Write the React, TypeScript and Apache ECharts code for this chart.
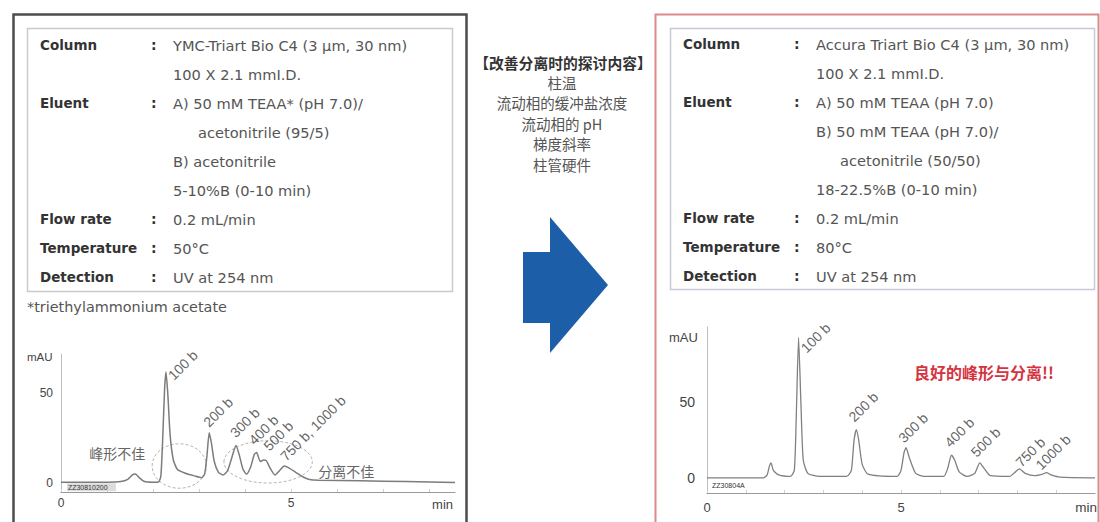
import React, { useEffect, useRef } from "react";
import * as echarts from "echarts";

// ---------- data ----------
const leftTrace: [number, number][] = [
  [0, 0.5], [1.0, 0.5], [1.3, 0.8], [1.45, 2], [1.55, 4.5], [1.62, 5], [1.7, 3], [1.8, 1],
  [2.0, 0.5], [2.12, 0.6], [2.17, 4], [2.21, 25], [2.25, 52], [2.28, 62], [2.32, 50],
  [2.37, 27], [2.44, 13], [2.53, 7.5], [2.7, 5.5], [2.9, 4], [3.05, 3], [3.12, 5],
  [3.17, 15], [3.22, 28], [3.27, 22], [3.33, 12], [3.42, 6], [3.52, 4.5], [3.62, 7],
  [3.72, 15], [3.8, 21], [3.87, 16], [3.95, 8], [4.03, 5], [4.12, 9], [4.2, 16],
  [4.25, 17], [4.33, 12], [4.4, 12.8], [4.46, 12.5], [4.55, 8], [4.65, 4.5], [4.75, 7],
  [4.85, 9.5], [4.95, 8.5], [5.1, 6], [5.25, 3.5], [5.4, 2], [5.6, 1.6], [6.5, 1.3],
  [7.5, 0.8], [8.56, 0.3],
];

const rightTrace: [number, number][] = [
  [0, 0], [1.45, 0], [1.55, 2], [1.61, 8], [1.65, 10], [1.71, 5], [1.85, 2], [2.15, 1],
  [2.25, 5], [2.3, 40], [2.36, 93], [2.42, 50], [2.48, 12], [2.6, 3], [2.9, 1], [3.6, 1],
  [3.72, 5], [3.79, 25], [3.85, 32], [3.91, 25], [4.0, 9], [4.15, 2.5], [4.9, 1],
  [5.0, 5], [5.08, 17], [5.13, 20], [5.22, 13], [5.38, 3], [5.6, 1], [6.1, 1], [6.2, 6],
  [6.3, 15], [6.38, 12], [6.5, 4], [6.7, 1], [6.9, 3], [7.03, 10], [7.15, 6], [7.3, 1.5],
  [7.8, 1], [7.95, 4], [8.05, 6], [8.2, 3], [8.45, 1.5], [8.65, 2.5], [8.75, 3.5],
  [8.87, 2], [9.1, 0.5], [10, 0],
];

const leftPeakNames = ["100 b", "200 b", "300 b", "400 b", "500 b", "750 b, 1000 b"];
const leftPeakTimes = [2.28, 3.22, 3.8, 4.25, 4.46, 4.87];
const leftPeakHeights = [62, 28, 21, 17, 13, 9.5];

const rightPeakNames = ["100 b", "200 b", "300 b", "400 b", "500 b", "750 b", "1000 b"];
const rightPeakTimes = [2.36, 3.85, 5.13, 6.3, 7.03, 8.05, 8.75];
const rightPeakHeights = [93, 32, 20, 15, 10, 6, 3.5];

const leftXTickLabels = [0, 5];
const leftYTickLabels = [0, 50];
const rightXTickLabels = [0, 5];
const rightYTickLabels = [0, 50];

const leftRows: [string, string, boolean][] = [
  ["Column", "YMC-Triart Bio C4 (3 µm, 30 nm)", false],
  ["", "100 X 2.1 mmI.D.", false],
  ["Eluent", "A) 50 mM TEAA* (pH 7.0)/", false],
  ["", "acetonitrile (95/5)", true],
  ["", "B) acetonitrile", false],
  ["", "5-10%B (0-10 min)", false],
  ["Flow rate", "0.2 mL/min", false],
  ["Temperature", "50°C", false],
  ["Detection", "UV at 254 nm", false],
];
const rightRows: [string, string, boolean][] = [
  ["Column", "Accura Triart Bio C4 (3 µm, 30 nm)", false],
  ["", "100 X 2.1 mmI.D.", false],
  ["Eluent", "A) 50 mM TEAA (pH 7.0)", false],
  ["", "B) 50 mM TEAA (pH 7.0)/", false],
  ["", "acetonitrile (50/50)", true],
  ["", "18-22.5%B (0-10 min)", false],
  ["Flow rate", "0.2 mL/min", false],
  ["Temperature", "80°C", false],
  ["Detection", "UV at 254 nm", false],
];
const footnote = "*triethylammonium acetate";
const studyTitle = "【改善分离时的探讨内容】";
const studyItems = ["柱温", "流动相的缓冲盐浓度", "流动相的 pH", "梯度斜率", "柱管硬件"];

const leftNotes = ["峰形不佳", "分离不佳"];
const leftNoteAt: [number, number][] = [[1.22, 16.8], [6.2, 6.7]];
const leftEllipses = [
  { cx: 2.57, cy: 9.5, rx: 0.59, ry: 12.4 },
  { cx: 4.5, cy: 11.8, rx: 0.96, ry: 11.8 },
];
const rightNote = "良好的峰形与分离!!";
const rightNoteAt: [number, number] = [7.14, 70];
const leftCode = "ZZ30810200";
const leftCodeAt: [number, number] = [0.15, -2.4];
const rightCode = "ZZ30804A";
const rightCodeAt: [number, number] = [0.13, -5.3];

// label placement (styling, pixels relative to each peak top)
const leftLabelShift: [number, number][] = [[10, 11], [2, -3], [2, -5], [0, -5], [5, -6], [3, -2]];
const rightLabelShift: [number, number][] = [[10, 18], [0, -5], [0, -2], [1, -5], [-1, -3], [4, 1], [-3, 0]];

const SANS = '"DejaVu Sans", "Liberation Sans", Arial, sans-serif';
const ASANS = '"Liberation Sans", Arial, sans-serif';
const CJK = '"Noto Sans CJK SC", sans-serif';

function txt(text: string, x: number, y: number, font: string, fill: string, align = "left", va = "middle", lineHeight?: number) {
  const style: any = { text, x, y, font, fill, align, verticalAlign: va, textAlign: align, textVerticalAlign: va };
  if (lineHeight) style.lineHeight = lineHeight;
  return { type: "text", silent: true, style };
}

function infoPanel(rows: [string, string, boolean][], lx: number, cx: number, vx: number, ix: number, y0: number, dy: number) {
  const out: any[] = [];
  rows.forEach((r, i) => {
    const y = y0 + i * dy;
    if (r[0]) {
      out.push(txt(r[0], lx, y, `bold 13.5px ${SANS}`, "#333"));
      out.push(txt(":", cx, y, `bold 14px ${SANS}`, "#333"));
    }
    out.push(txt(r[1], r[2] ? ix : vx, y, `14.6px ${SANS}`, "#555"));
  });
  return out;
}

function peakSeries(names: string[], times: number[], heights: number[], shifts: [number, number][], xi: number, fs: number) {
  return {
    type: "scatter",
    xAxisIndex: xi,
    yAxisIndex: xi,
    symbolSize: 1,
    itemStyle: { color: "rgba(0,0,0,0)" },
    silent: true,
    z: 5,
    data: names.map((n, i) => ({
      value: [times[i], heights[i]],
      name: n,
      label: { position: shifts[i] },
    })),
    label: {
      show: true,
      rotate: 45,
      align: "left",
      verticalAlign: "bottom",
      formatter: (p: any) => p.name,
      fontSize: fs,
      fontFamily: ASANS,
      color: "#3a3a3a",
    },
    labelLayout: { hideOverlap: false },
  };
}

export default function App() {
  const ref = useRef<HTMLDivElement>(null);
  useEffect(() => {
    document.body.style.margin = "0";
    const chart = echarts.init(ref.current!, null, { renderer: "svg" });
    const axisLabel = (list: number[], fs: number, margin: number) => ({
      formatter: (v: number) => (list.indexOf(v) >= 0 ? String(v) : ""),
      fontSize: fs,
      color: "#444",
      fontFamily: ASANS,
      margin,
      showMaxLabel: false,
    });
    chart.setOption({
      animation: false,
      backgroundColor: "#ffffff",
      grid: [
        { left: 61, top: 354, width: 394, height: 138 },
        { left: 707, top: 327, width: 388, height: 166 },
      ],
      xAxis: [
        {
          gridIndex: 0, type: "value", min: 0, max: 8.56, interval: 1,
          axisLine: { onZero: false, lineStyle: { color: "#9a9a9a", width: 1.2 } },
          axisTick: { show: true, inside: true, length: 3, lineStyle: { color: "#d0d0d0" } },
          axisLabel: axisLabel(leftXTickLabels, 12, 5),
          splitLine: { show: false },
        },
        {
          gridIndex: 1, type: "value", min: 0, max: 10, interval: 1,
          axisLine: { onZero: false, lineStyle: { color: "#9a9a9a", width: 1.2 } },
          axisTick: { show: true, inside: true, length: 3, lineStyle: { color: "#d0d0d0" } },
          axisLabel: axisLabel(rightXTickLabels, 13, 8),
          splitLine: { show: false },
        },
      ],
      yAxis: [
        {
          gridIndex: 0, type: "value", min: -5, max: 72, interval: 5,
          axisLine: { show: true, onZero: false, lineStyle: { color: "#bdbdbd", width: 1 } },
          axisTick: { show: false },
          axisLabel: axisLabel(leftYTickLabels, 12, 8),
          splitLine: { show: false },
        },
        {
          gridIndex: 1, type: "value", min: -10, max: 100, interval: 10,
          axisLine: { show: true, onZero: false, lineStyle: { color: "#bdbdbd", width: 1 } },
          axisTick: { show: false },
          axisLabel: axisLabel(rightYTickLabels, 14, 12),
          splitLine: { show: false },
        },
      ],
      series: [
        {
          type: "line", xAxisIndex: 0, yAxisIndex: 0, data: leftTrace, showSymbol: false,
          smooth: 0.2, lineStyle: { color: "#7c7c7c", width: 1.5 }, silent: true,
        },
        {
          type: "line", xAxisIndex: 1, yAxisIndex: 1, data: rightTrace, showSymbol: false,
          smooth: 0.2, lineStyle: { color: "#808080", width: 1.3 }, silent: true,
        },
        peakSeries(leftPeakNames, leftPeakTimes, leftPeakHeights, leftLabelShift, 0, 14),
        peakSeries(rightPeakNames, rightPeakTimes, rightPeakHeights, rightLabelShift, 1, 14),
      ],
    });

    const p0 = (v: [number, number]) => chart.convertToPixel({ xAxisIndex: 0, yAxisIndex: 0 }, v) as number[];
    const p1 = (v: [number, number]) => chart.convertToPixel({ xAxisIndex: 1, yAxisIndex: 1 }, v) as number[];

    const g: any[] = [];
    // frames
    g.push({ type: "rect", silent: true, shape: { x: 13.5, y: 14.5, width: 453, height: 540 }, style: { fill: "none", stroke: "#4d4d4d", lineWidth: 2.5 } });
    g.push({ type: "rect", silent: true, shape: { x: 655.5, y: 14.5, width: 443, height: 540 }, style: { fill: "none", stroke: "#dc8a8a", lineWidth: 2 } });
    // info boxes
    g.push({ type: "rect", silent: true, shape: { x: 27.5, y: 28.5, width: 425, height: 263 }, style: { fill: "none", stroke: "#cacaca", lineWidth: 1.5 } });
    g.push({ type: "rect", silent: true, shape: { x: 670.5, y: 28.5, width: 424, height: 261 }, style: { fill: "none", stroke: "#c6c9d8", lineWidth: 1.5 } });
    g.push(...infoPanel(leftRows, 40, 151, 173, 198, 45, 29));
    g.push(...infoPanel(rightRows, 683, 794, 816, 840, 44, 29));
    g.push(txt(footnote, 27, 307, `14.4px ${SANS}`, "#555"));
    // middle
    g.push(txt(studyTitle, 563, 62, `bold 14.8px ${CJK}`, "#333", "center", "middle", 16));
    studyItems.forEach((s, i) =>
      g.push(txt(s, 562, 82 + i * 20.5, `14.5px ${CJK}`, "#555", "center", "middle", 16))
    );
    g.push({
      type: "polygon", silent: true,
      shape: { points: [[523, 252], [550, 252], [550, 217], [608, 285], [550, 353], [550, 323], [523, 323]] },
      style: { fill: "#1c5fa8" },
    });
    // axis names
    const lTop = p0([0, 72]);
    g.push(txt("mAU", 27, lTop[1] + 3, `11.5px ${ASANS}`, "#444"));
    const lEnd = p0([8.56, -5]);
    g.push(txt("min", lEnd[0] - 2, lEnd[1] + 12, `13px ${ASANS}`, "#444", "right"));
    const rTop = p1([0, 100]);
    g.push(txt("mAU", 669, rTop[1] + 10, `13px ${ASANS}`, "#444"));
    const rEnd = p1([10, -10]);
    g.push(txt("min", rEnd[0] + 2, rEnd[1] + 14, `13.5px ${ASANS}`, "#444", "right"));
    // annotations
    leftEllipses.forEach((e) => {
      const c = p0([e.cx, e.cy]);
      const a = p0([e.cx + e.rx, e.cy + e.ry]);
      g.push({
        type: "ellipse", silent: true,
        shape: { cx: c[0], cy: c[1], rx: Math.abs(a[0] - c[0]), ry: Math.abs(c[1] - a[1]) },
        style: { fill: "none", stroke: "#b5b5b5", lineWidth: 1, lineDash: [3, 2] },
      });
    });
    leftNotes.forEach((n, i) => {
      const c = p0(leftNoteAt[i]);
      g.push(txt(n, c[0], c[1], `14px ${CJK}`, "#666", "center"));
    });
    const rn = p1(rightNoteAt);
    g.push(txt(rightNote, rn[0], rn[1], `bold 16px ${CJK}`, "#d4343f", "center"));
    const lc = p0(leftCodeAt);
    g.push({
      type: "rect", silent: true, shape: { x: lc[0] - 1, y: lc[1] - 4, width: 49, height: 8 },
      style: { fill: "#dcdcdc" },
    });
    g.push(txt(leftCode, lc[0], lc[1], `7px ${ASANS}`, "#333"));
    const rc = p1(rightCodeAt);
    g.push(txt(rightCode, rc[0], rc[1], `7px ${ASANS}`, "#333"));

    chart.setOption({ graphic: { elements: g } });
    return () => chart.dispose();
  }, []);
  return <div ref={ref} style={{ width: 1100, height: 522 }} />;
}
